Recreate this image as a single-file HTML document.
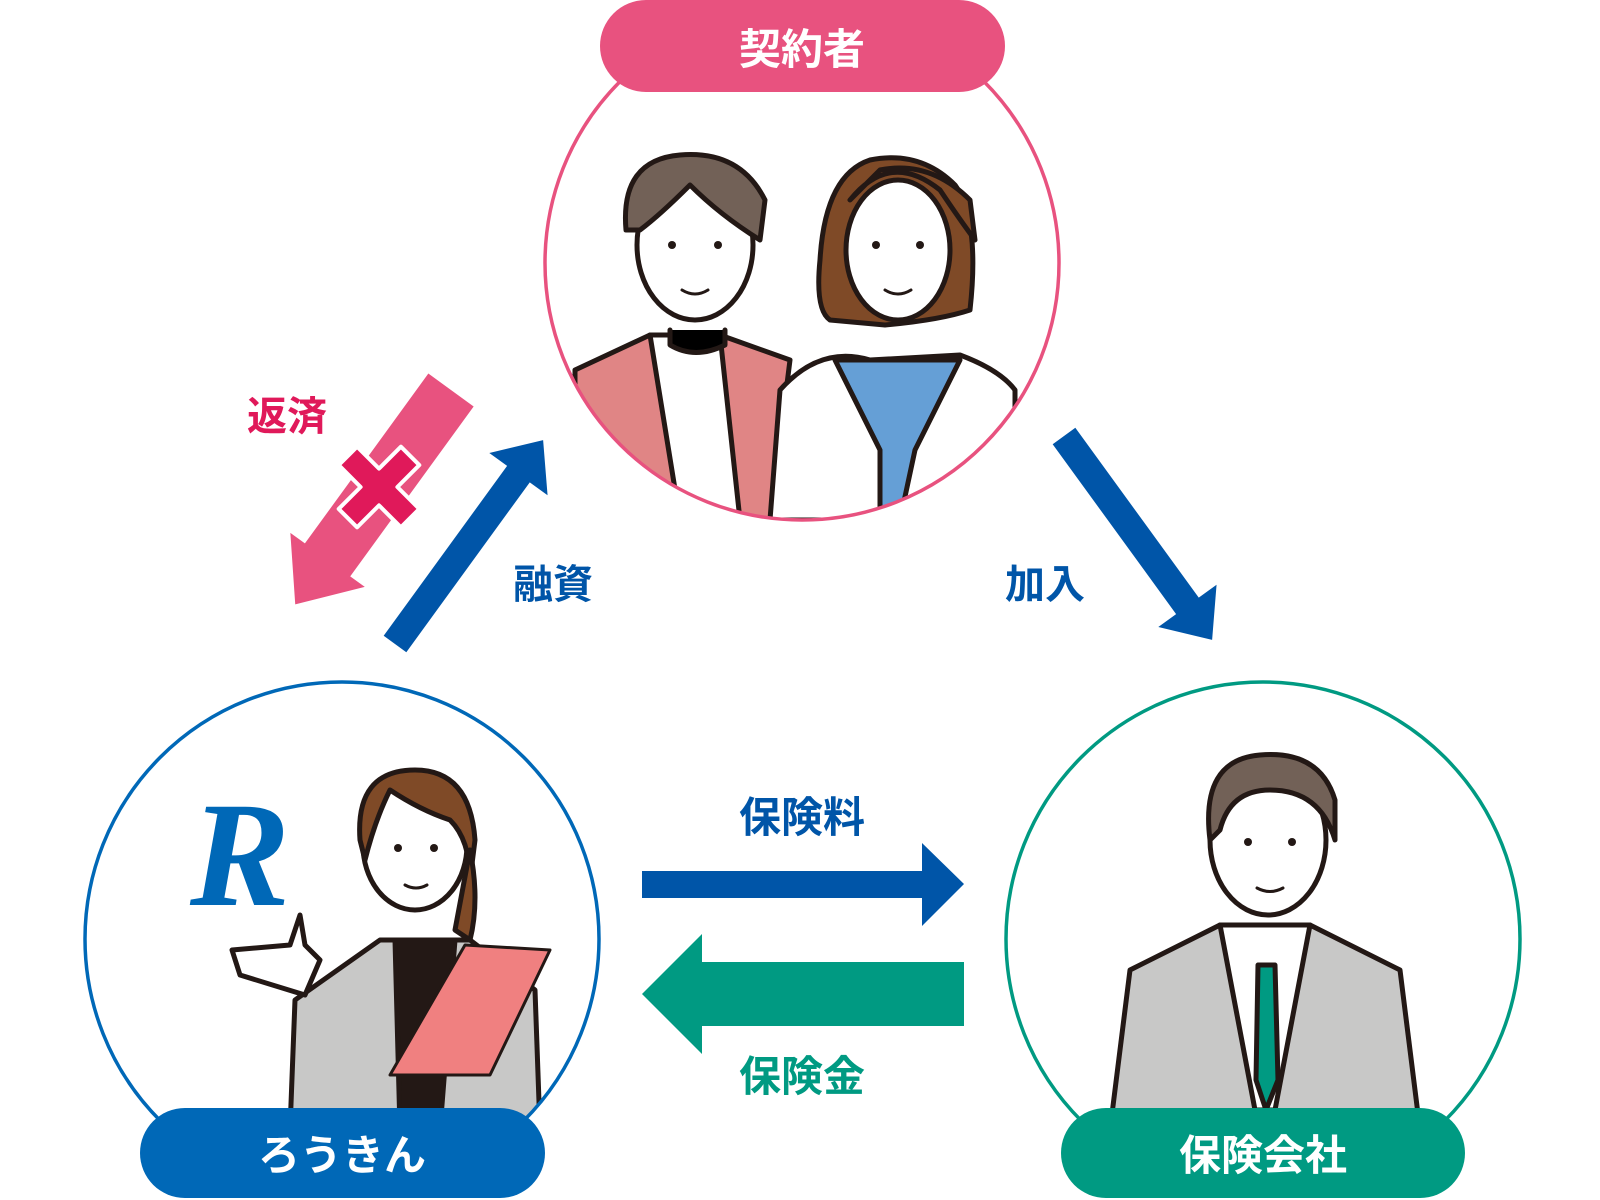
<!DOCTYPE html>
<html><head><meta charset="utf-8"><style>
html,body{margin:0;padding:0;background:#fff;width:1600px;height:1200px;overflow:hidden}
svg text{font-family:"Liberation Sans","Noto Sans CJK JP",sans-serif;font-weight:bold}
</style></head><body>
<svg width="1600" height="1200" viewBox="0 0 1600 1200" xmlns="http://www.w3.org/2000/svg">
<defs>
<clipPath id="ct"><circle cx="802" cy="263" r="257"/></clipPath>
<clipPath id="cl"><circle cx="342" cy="939" r="257"/></clipPath>
<clipPath id="cr"><circle cx="1263" cy="939" r="257"/></clipPath>
</defs>
<g stroke="#231815" stroke-width="5" stroke-linecap="round" stroke-linejoin="round">
<g clip-path="url(#ct)">
<path d="M575 370 L650 335 L720 335 L790 360 L770 520 L575 520Z" fill="#e08585"/>
<path d="M650 335 L720 335 L740 520 L680 520Z" fill="#fff"/>
<path d="M780 390 Q820 345 870 360 L960 355 Q1000 370 1015 390 L1015 520 L770 520Z" fill="#fff"/>
<path d="M835 360 L960 360 L915 450 L900 520 L880 520 L880 450Z" fill="#659fd6"/>
<ellipse cx="695" cy="245" rx="58" ry="75" fill="#fff"/>
<path d="M626 230 Q620 160 680 155 Q740 150 765 200 L760 240 Q720 215 690 185 Q660 215 640 230Z" fill="#726157"/>
<path d="M820 260 Q815 310 830 320 L885 325 Q940 320 970 310 Q980 220 955 185 Q920 150 870 160 Q825 175 820 260Z" fill="#7f4a27"/>
<ellipse cx="898" cy="250" rx="52" ry="70" fill="#fff"/>
<path d="M850 200 Q890 150 940 190 Q960 220 975 240 L970 200 Q930 160 880 170Z" fill="#7f4a27"/>
<path d="M670 330 L670 345 Q695 360 725 345 L725 330"/>
</g>
<g clip-path="url(#cl)">
<path d="M295 1000 L380 940 L470 940 L535 990 L540 1130 L290 1130Z" fill="#c8c8c7"/>
<path d="M395 940 L455 940 L440 1130 L400 1130Z" fill="#231815"/>
<ellipse cx="415" cy="845" rx="52" ry="65" fill="#fff"/>
<path d="M360 840 Q355 770 415 770 Q470 770 475 840 L470 880 Q470 840 450 820 Q420 810 390 790 Q375 820 365 860Z" fill="#7f4a27"/>
<path d="M470 850 Q480 900 470 940 L455 930Z" fill="#7f4a27"/>
<path d="M465 945 L550 950 L490 1075 L390 1075Z" fill="#f08080" stroke-width="3"/>
<path d="M232 950 L290 945 L300 915 L305 945 L320 960 L305 995 L240 975Z" fill="#fff"/>
</g>
<g clip-path="url(#cr)">
<path d="M1130 970 L1220 925 L1310 925 L1400 970 L1420 1130 L1110 1130Z" fill="#c8c8c7"/>
<path d="M1220 925 L1310 925 L1275 1110 L1255 1110Z" fill="#fff"/>
<path d="M1258 965 L1275 965 L1278 1080 L1266 1110 L1256 1080Z" fill="#009a82"/>
<ellipse cx="1268" cy="840" rx="58" ry="75" fill="#fff"/>
<path d="M1210 840 Q1200 760 1260 755 Q1320 750 1335 800 L1335 840 Q1320 790 1270 790 Q1230 790 1220 830Z" fill="#726157"/>
</g>
</g>
<g fill="#231815">
<circle cx="672" cy="245" r="4"/><circle cx="718" cy="245" r="4"/>
<circle cx="876" cy="245" r="4"/><circle cx="920" cy="245" r="4"/>
<circle cx="398" cy="848" r="4"/><circle cx="434" cy="848" r="4"/>
<circle cx="1248" cy="842" r="4"/><circle cx="1292" cy="842" r="4"/>
</g>
<g fill="none" stroke="#231815" stroke-width="3" stroke-linecap="round">
<path d="M682 290 Q695 298 708 290"/><path d="M885 290 Q898 298 911 290"/>
<path d="M405 885 Q416 891 427 885"/><path d="M1257 888 Q1270 895 1283 888"/>
</g>
<text x="190" y="905" font-size="150" fill="#0068b7" font-style="italic" style="font-family:'Liberation Serif',serif">R</text>
<circle cx="802" cy="263" r="257" fill="none" stroke="#e8527f" stroke-width="3.5"/>
<circle cx="342" cy="939" r="257" fill="none" stroke="#0068b7" stroke-width="3.5"/>
<circle cx="1263" cy="939" r="257" fill="none" stroke="#009a82" stroke-width="3.5"/>
<rect x="600" y="0" width="405" height="92" rx="46" fill="#e8527f"/>
<text x="802" y="64" font-size="42" fill="#fff" text-anchor="middle">契約者</text>
<rect x="140" y="1108" width="405" height="90" rx="45" fill="#0068b7"/>
<text x="342" y="1170" font-size="42" fill="#fff" text-anchor="middle">ろうきん</text>
<rect x="1061" y="1108" width="404" height="90" rx="45" fill="#009a82"/>
<text x="1263" y="1170" font-size="42" fill="#fff" text-anchor="middle">保険会社</text>
<g transform="translate(395,644) rotate(-54)">
<polygon points="0,-14 210,-14 210,-36 252,0 210,36 210,14 0,14" fill="#0055a8"/>
</g>
<g transform="translate(451,390) rotate(126)">
<polygon points="0,-28 210,-28 210,-46 265,0 210,46 210,28 0,28" fill="#e8527f"/>
</g>
<g transform="translate(1064,436) rotate(54)">
<polygon points="0,-14 210,-14 210,-36 252,0 210,36 210,14 0,14" fill="#0055a8"/>
</g>
<g transform="translate(379,487) rotate(45)">
<polygon points="-13,-44 13,-44 13,-13 44,-13 44,13 13,13 13,44 -13,44 -13,13 -44,13 -44,-13 -13,-13" fill="#e0195a" stroke="#fff" stroke-width="4" stroke-linejoin="round"/>
</g>
<text x="287" y="430" font-size="40" fill="#e0195a" text-anchor="middle">返済</text>
<text x="553" y="598" font-size="40" fill="#0055a8" text-anchor="middle">融資</text>
<text x="1045" y="598" font-size="40" fill="#0055a8" text-anchor="middle">加入</text>
<polygon points="642,871 922,871 922,843 964,884 922,926 922,898 642,898" fill="#0055a8"/>
<polygon points="964,962 702,962 702,934 642,994 702,1054 702,1026 964,1026" fill="#009a82"/>
<text x="802" y="832" font-size="42" fill="#0055a8" text-anchor="middle">保険料</text>
<text x="802" y="1091" font-size="42" fill="#009a82" text-anchor="middle">保険金</text>
</svg>
</body></html>
